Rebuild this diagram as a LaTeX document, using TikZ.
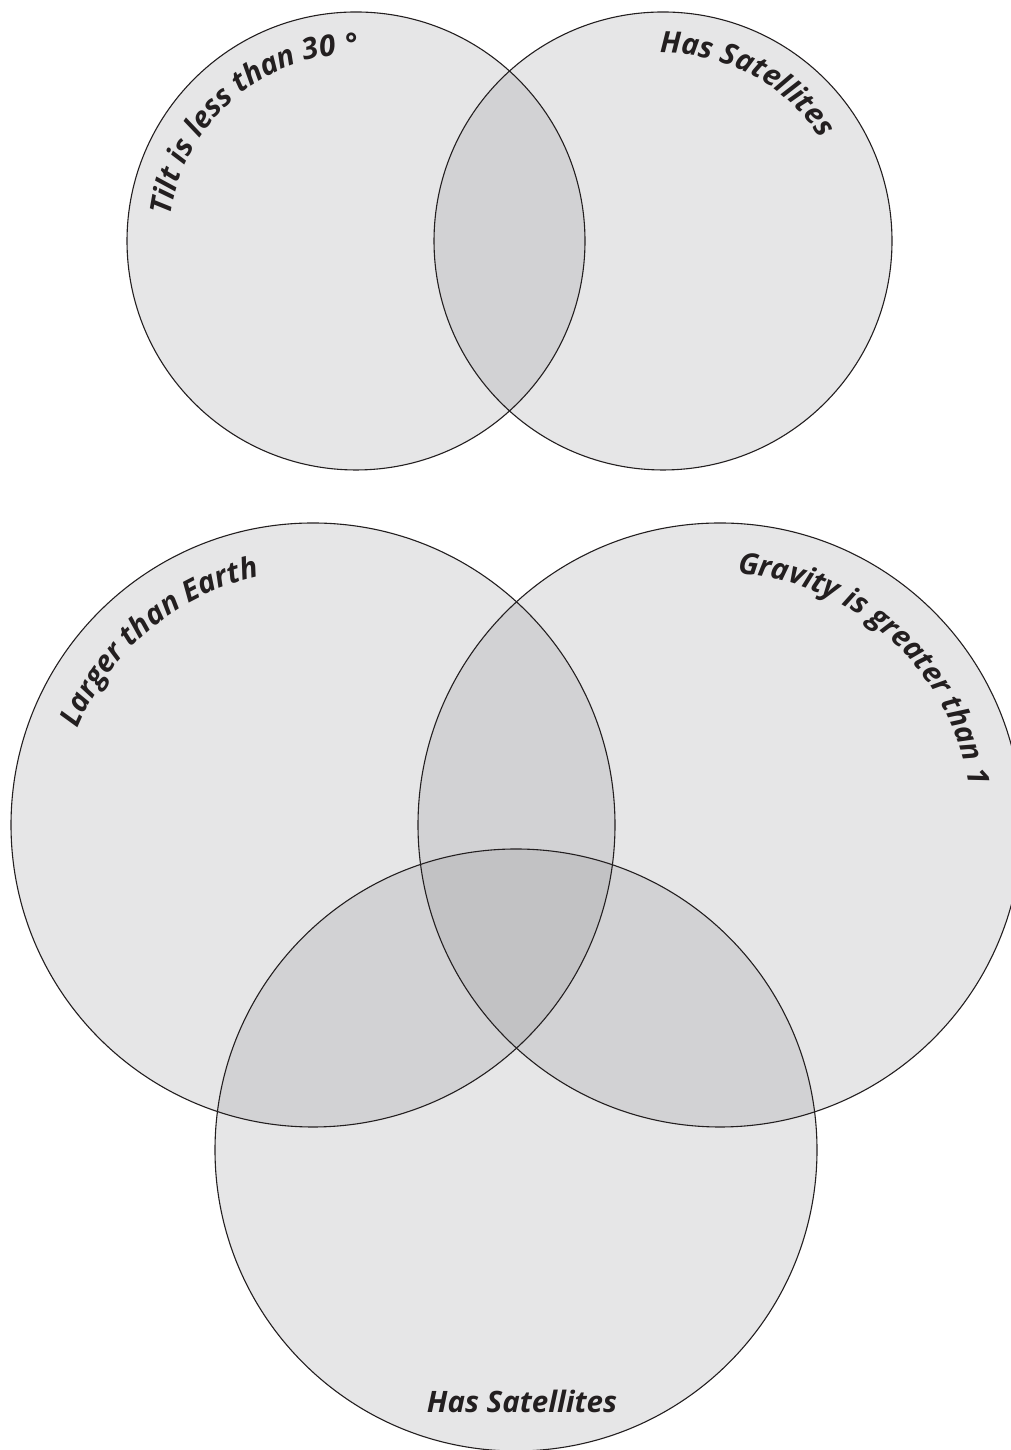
\documentclass[tikz,border=0pt]{standalone}
\usepackage{fontspec}
\setmainfont{Open Sans}
\usetikzlibrary{decorations.text}
\definecolor{ink}{HTML}{231F20}
\definecolor{tone}{RGB}{130,130,135}
\newcommand{\lblfont}{\bfseries\itshape\fontsize{29.5}{30}\selectfont\color{ink}}
\tikzset{
  vennfill/.style={fill=tone, fill opacity=0.2},
  ring/.style={circle, draw=ink, line width=1.1pt, inner sep=0pt, outer sep=0pt, fill=none},
  arclabel/.style={decorate, decoration={text along path, text align=center, text={|\lblfont|#1}}}
}
\begin{document}
\begin{tikzpicture}[x=1pt,y=1pt]
\useasboundingbox (0,0) rectangle (1011,1450);
\clip (0,0) rectangle (1011,1450);
\coordinate (ctl) at (356,1209);
\coordinate (ctr) at (663,1209);
\coordinate (cbl) at (313,625);
\coordinate (cbr) at (720,625);
\coordinate (cb)  at (516,300);
% fills
\fill[vennfill] (ctl) circle[radius=229];
\fill[vennfill] (ctr) circle[radius=229];
\fill[vennfill] (cbl) circle[radius=302];
\fill[vennfill] (cbr) circle[radius=302];
\fill[vennfill] (cb)  circle[radius=301];
% outlines
\node[ring, minimum size=458pt] (tl) at (ctl) {};
\node[ring, minimum size=458pt] (tr) at (ctr) {};
\node[ring, minimum size=604pt] (bl) at (cbl) {};
\node[ring, minimum size=604pt] (br) at (cbr) {};
\node[ring, minimum size=602pt] (b)  at (cb) {};
% curved labels
\path[arclabel={Tilt is less than 30 °}] ([shift={(195:187)}]ctl) arc[start angle=195, end angle=67, radius=187];
\path[arclabel={Has Satellites}] ([shift={(126:188)}]ctr) arc[start angle=126, end angle=-2, radius=188];
\path[arclabel={Larger than Earth}] ([shift={(194:254)}]cbl) arc[start angle=194, end angle=66, radius=254];
\path[arclabel={Gravity is greater than 1}] ([shift={(111.4:252)}]cbr) arc[start angle=111.4, end angle=-16.6, radius=252];
% straight label
\node[anchor=base, inner sep=0pt, font=\lblfont] (lb) at (522,37) {Has Satellites};
\end{tikzpicture}
\end{document}
